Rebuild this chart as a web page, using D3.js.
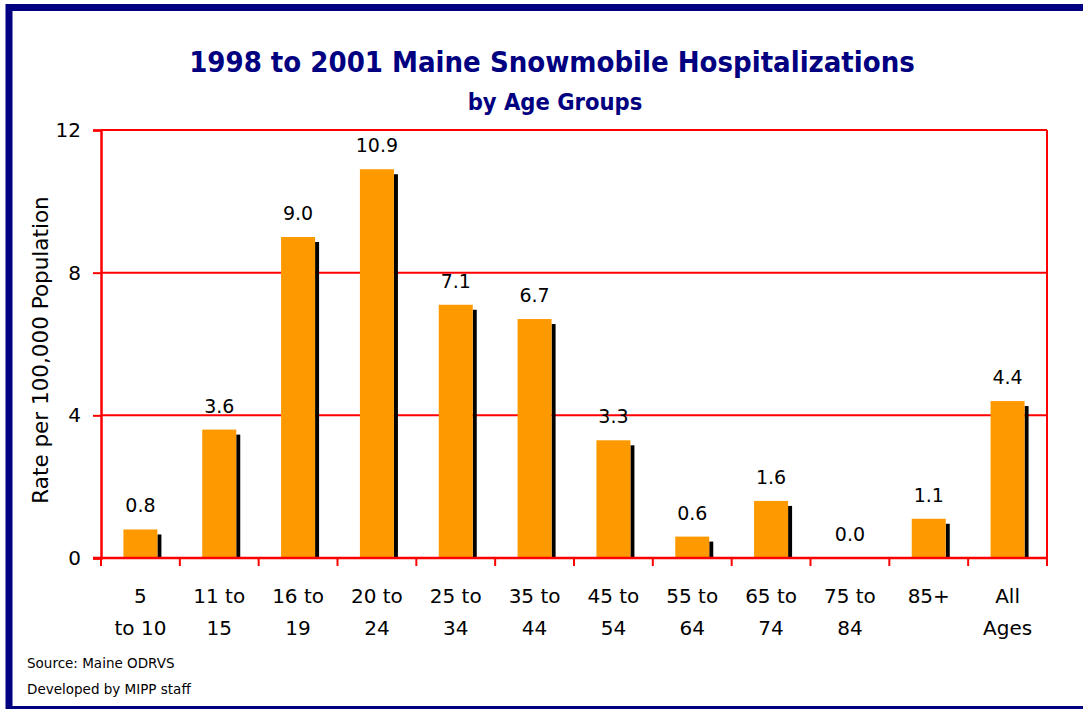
<!DOCTYPE html>
<html>
<head>
<meta charset="utf-8">
<script src="https://cdn.jsdelivr.net/npm/d3@7"></script>
<style>
  html, body { margin: 0; background: #fff; overflow: hidden; }
  svg { display: block; }
  svg text { font-family: "DejaVu Sans", sans-serif; }
</style>
</head>
<body>
<script>
// chart data
var ageGroups = [["5", "to 10"], ["11 to", "15"], ["16 to", "19"], ["20 to", "24"], ["25 to", "34"],
                 ["35 to", "44"], ["45 to", "54"], ["55 to", "64"], ["65 to", "74"], ["75 to", "84"],
                 ["85+", ""], ["All", "Ages"]];
var rates = [0.8, 3.6, 9.0, 10.9, 7.1, 6.7, 3.3, 0.6, 1.6, 0.0, 1.1, 4.4];
var yTicks = [0, 4, 8, 12];

var width = 1084, height = 709;
var margin = {left: 101, right: 37, top: 130, bottom: 151};
var condensed = "'DejaVu Sans Condensed', 'DejaVu Sans', sans-serif";

var svg = d3.select("body").append("svg")
    .attr("width", width)
    .attr("height", height);

// outer navy frame: top, left, bottom only (right edge is cut off)
svg.append("path")
    .attr("d", "M" + (width - 1) + ",7.5 H9 V709.5 H" + (width - 1))
    .attr("fill", "none")
    .attr("stroke", "#000080")
    .attr("stroke-width", 7);

// titles
svg.append("text")
    .attr("x", 552).attr("y", 72)
    .attr("text-anchor", "middle")
    .attr("font-size", 29).attr("font-weight", "bold")
    .attr("fill", "#000080")
    .style("font-family", condensed)
    .text("1998 to 2001 Maine Snowmobile Hospitalizations");
svg.append("text")
    .attr("x", 555).attr("y", 110)
    .attr("text-anchor", "middle")
    .attr("font-size", 23.5).attr("font-weight", "bold")
    .attr("fill", "#000080")
    .style("font-family", condensed)
    .text("by Age Groups");

var x = d3.scaleBand()
    .domain(d3.range(ageGroups.length))
    .range([margin.left, width - margin.right]);
var y = d3.scaleLinear()
    .domain([0, 12])
    .range([height - margin.bottom, margin.top]);

var g = svg.append("g");

// gridlines
g.selectAll(".grid")
    .data(yTicks.filter(function(d){ return d > 0; }))
    .enter().append("line")
    .attr("x1", margin.left).attr("x2", width - margin.right)
    .attr("y1", function(d){ return y(d); })
    .attr("y2", function(d){ return y(d); })
    .attr("stroke", "red").attr("stroke-width", 2);

// right frame line of plot
g.append("line")
    .attr("x1", width - margin.right).attr("x2", width - margin.right)
    .attr("y1", y(12)).attr("y2", y(0))
    .attr("stroke", "red").attr("stroke-width", 2);

// bars with black shadow
var bw = 34;
g.selectAll(".shadow")
    .data(rates)
    .enter().append("rect")
    .attr("x", function(d, i){ return x(i) + x.bandwidth() / 2 - bw / 2 + bw; })
    .attr("y", function(d){ return Math.min(y(d) + 5, y(0)); })
    .attr("width", 4)
    .attr("height", function(d){ return Math.max(y(0) - y(d) - 5, 0); })
    .attr("fill", "#000");
g.selectAll(".bar")
    .data(rates)
    .enter().append("rect")
    .attr("x", function(d, i){ return x(i) + x.bandwidth() / 2 - bw / 2; })
    .attr("y", function(d){ return y(d); })
    .attr("width", bw)
    .attr("height", function(d){ return y(0) - y(d); })
    .attr("fill", "#FF9900");

// value labels
g.selectAll(".val")
    .data(rates)
    .enter().append("text")
    .attr("x", function(d, i){ return x(i) + x.bandwidth() / 2; })
    .attr("y", function(d){ return y(d) - 17; })
    .attr("text-anchor", "middle")
    .attr("font-size", 19)
    .attr("fill", "#000")
    .text(function(d){ return d3.format(".1f")(d); });

// y axis
var yAxis = svg.append("g")
    .attr("transform", "translate(" + margin.left + ",0)")
    .call(d3.axisLeft(y).tickValues(yTicks).tickSize(8).tickPadding(12).tickFormat(d3.format("d")));
yAxis.select(".domain").attr("stroke", "red").attr("stroke-width", 2.5);
yAxis.selectAll(".tick line").attr("stroke", "red").attr("stroke-width", 2);
yAxis.selectAll(".tick text").attr("font-size", 20).attr("fill", "#000")
    .style("font-family", "'DejaVu Sans', sans-serif");

// x axis
var xAxisG = svg.append("g");
xAxisG.append("line")
    .attr("x1", margin.left - 8).attr("x2", width - margin.right)
    .attr("y1", y(0)).attr("y2", y(0))
    .attr("stroke", "red").attr("stroke-width", 2.5);
var bounds = d3.range(ageGroups.length + 1);
xAxisG.selectAll(".xt")
    .data(bounds)
    .enter().append("line")
    .attr("x1", function(d){ return margin.left + d * x.step(); })
    .attr("x2", function(d){ return margin.left + d * x.step(); })
    .attr("y1", y(0)).attr("y2", y(0) + 8)
    .attr("stroke", "red").attr("stroke-width", 2);

var xl = xAxisG.selectAll(".xl")
    .data(ageGroups)
    .enter().append("text")
    .attr("text-anchor", "middle")
    .attr("font-size", 20)
    .attr("fill", "#000");
xl.append("tspan")
    .attr("x", function(d, i){ return x(i) + x.bandwidth() / 2; })
    .attr("y", 603)
    .text(function(d){ return d[0]; });
xl.append("tspan")
    .attr("x", function(d, i){ return x(i) + x.bandwidth() / 2; })
    .attr("y", 635)
    .text(function(d){ return d[1]; });

// y axis title
svg.append("text")
    .attr("transform", "translate(48,350) rotate(-90)")
    .attr("text-anchor", "middle")
    .attr("font-size", 21.5)
    .attr("fill", "#000")
    .text("Rate per 100,000 Population");

// source notes
svg.append("text")
    .attr("x", 27).attr("y", 668)
    .attr("font-size", 13.5).attr("fill", "#000")
    .text("Source: Maine ODRVS");
svg.append("text")
    .attr("x", 27).attr("y", 694)
    .attr("font-size", 13.5).attr("fill", "#000")
    .text("Developed by MIPP staff");
</script>
</body>
</html>
